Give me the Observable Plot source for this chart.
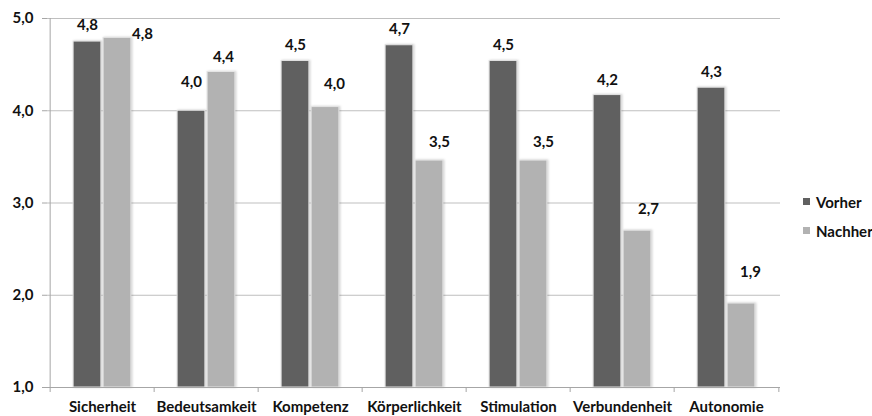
<!DOCTYPE html>
<html>
<head>
<meta charset="utf-8">
<script src="https://cdn.jsdelivr.net/npm/d3@7"></script>
<script src="https://cdn.jsdelivr.net/npm/@observablehq/plot@0.6"></script>
<style>
  body { margin: 0; background: #fff; font-family: Lato, "Open Sans", sans-serif; }
  #wrap { position: relative; width: 872px; height: 416px; }
  .legend { position: absolute; left: 803px; top: 187px; font-weight: 700; font-size: 15px; color: #111; }
  .legend .row { display: flex; align-items: center; height: 29px; }
  .legend .sw { width: 7px; height: 7px; margin-right: 6px; }
  svg g[aria-label="bar"] rect { filter: drop-shadow(1.5px 0.5px 1px rgba(0,0,0,0.18)); }
</style>
</head>
<body>
<div id="wrap"></div>
<script>
// Mean ratings per need, before and after
const categories = ["Sicherheit", "Bedeutsamkeit", "Kompetenz", "Körperlichkeit", "Stimulation", "Verbundenheit", "Autonomie"];
const series = ["Vorher", "Nachher"];
const vorher = [4.75, 4.00, 4.54, 4.71, 4.54, 4.17, 4.25];
const nachher = [4.79, 4.42, 4.04, 3.46, 3.46, 2.70, 1.91];
const yTicks = [1, 2, 3, 4, 5];
const colors = ["#606060", "#b2b2b2"];

const data = categories.flatMap((c, i) => [
  {category: c, series: "Vorher", value: vorher[i]},
  {category: c, series: "Nachher", value: nachher[i]}
]);

const fmt = v => v.toFixed(1).replace(".", ",");

// layout
const width = 872, height = 416;
const marginLeft = 47, marginRight = 92, marginTop = 18, marginBottom = 29;
const bw = (width - marginLeft - marginRight) / categories.length;
const half = bw / 2;
const barW = 28.5, gap = 1.5;
const inner = {Vorher: {insetLeft: half - gap / 2 - barW, insetRight: half + gap / 2},
               Nachher: {insetLeft: half + gap / 2, insetRight: half - gap / 2 - barW}};
const barCenter = {Vorher: -(gap / 2 + barW / 2), Nachher: gap / 2 + barW / 2};

// value label placement relative to each bar's top centre, per category
const labelShift = {
  Vorher:  [[0, -16], [0, -29], [0, -16], [0, -16], [0, -16], [0, -15], [0, -16]],
  Nachher: [[25, -4], [2, -15], [9, -23], [10, -18], [10, -18], [11, -21], [9, -31]]
};

const text = data.map(d => {
  const i = categories.indexOf(d.category);
  const [sx, sy] = labelShift[d.series][i];
  return Plot.text([d], {
    x: "category", y: "value", text: t => fmt(t.value),
    dx: barCenter[d.series] + sx, dy: sy,
    fontWeight: 700, fontSize: 15, fill: "#111"
  });
});

const chart = Plot.plot({
  width, height, marginLeft, marginRight, marginTop, marginBottom,
  style: {fontFamily: "Lato, 'Open Sans', sans-serif", background: "#fff"},
  x: {domain: categories, padding: 0, label: null},
  y: {domain: [1, 5], label: null},
  color: {domain: series, range: colors},
  marks: [
    Plot.ruleY(yTicks.slice(1), {stroke: "#bfbfbf", strokeWidth: 1}),
    ...series.map(s => Plot.barY(data.filter(d => d.series === s), {
      x: "category", y1: 1, y2: "value", fill: "series",
      stroke: "#e4e4e4", strokeWidth: 1, ...inner[s]
    })),
    Plot.ruleY([1], {stroke: "#a6a6a6"}),
    Plot.ruleX([categories[0]], {x: d => d, dx: -half, stroke: "#a6a6a6"}),
    Plot.ruleX(categories, {x: d => d, dx: -half, stroke: "#a6a6a6", insetTop: height - marginTop - marginBottom, insetBottom: -5}),
    Plot.ruleX([categories[categories.length - 1]], {x: d => d, dx: half, stroke: "#a6a6a6", insetTop: height - marginTop - marginBottom, insetBottom: -5}),
    Plot.axisY({ticks: yTicks, tickFormat: fmt, tickSize: 5, tickPadding: 9, stroke: "#a6a6a6", fill: "#111", fontWeight: 700, fontSize: 15, label: null}),
    Plot.axisX({tickSize: 0, tickPadding: 14, fill: "#111", fontWeight: 700, fontSize: 15, label: null}),
    ...text
  ]
});

const wrap = document.getElementById("wrap");
wrap.appendChild(chart);

// legend
const legend = document.createElement("div");
legend.className = "legend";
series.forEach((s, i) => {
  const row = document.createElement("div");
  row.className = "row";
  const sw = document.createElement("span");
  sw.className = "sw";
  sw.style.background = colors[i];
  const label = document.createElement("span");
  label.textContent = s;
  row.appendChild(sw);
  row.appendChild(label);
  legend.appendChild(row);
});
wrap.appendChild(legend);
</script>
</body>
</html>
